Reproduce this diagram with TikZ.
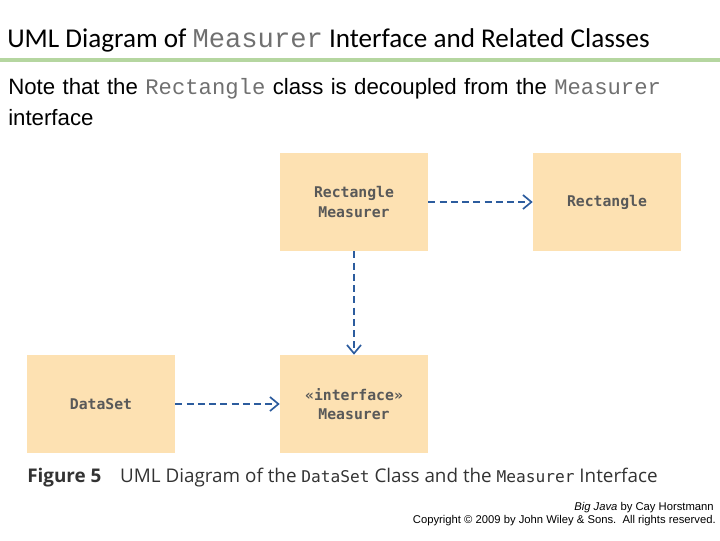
\documentclass[tikz,border=0pt]{standalone}
\usepackage{fontspec}
\setmainfont{Liberation Sans}
\newfontfamily\titlefont{Carlito}
\newfontfamily\codefont{Liberation Mono}
\newfontfamily\boxfont{DejaVu Sans Mono}
\newfontfamily\capfont{Open Sans}
\usetikzlibrary{arrows.meta}
\definecolor{peach}{HTML}{FDE1B2}
\definecolor{arrowblue}{HTML}{2C5C9E}
\definecolor{linegreen}{HTML}{B5D6A0}
\definecolor{codegray}{HTML}{707070}
\tikzset{
  cls/.style={fill=peach,draw=none,minimum width=148*0.025cm,minimum height=98*0.025cm,align=center,font=\boxfont\bfseries\fontsize{10.5}{14}\selectfont,text=black!65},
  dep/.style={draw=arrowblue,dashed,line width=1.3pt,dash pattern=on 5pt off 3pt,-{Straight Barb[length=6pt,width=10pt,line width=1.2pt]}}
}
\begin{document}
\begin{tikzpicture}[x=0.025cm,y=-0.025cm]
\useasboundingbox (0,0) rectangle (720,540);
\node[anchor=west,font=\titlefont\fontsize{19.3}{22}\selectfont,inner sep=0] (title) at (7,40) {UML Diagram of {\codefont\color{codegray}Measurer} Interface and Related Classes};
\draw[linegreen,line width=2.5pt] (0,60) -- (720,60);
\node[anchor=north west,font=\fontsize{15.8}{22}\selectfont,align=left,inner sep=0,text width=705*0.025cm] (note) at (8,78) {Note that the {\codefont\color{codegray}Rectangle} class is decoupled from the {\codefont\color{codegray}Measurer}\\interface};
\node[cls] (rm) at (354,202) {Rectangle\\Measurer};
\node[cls] (r) at (607,202) {Rectangle};
\node[cls] (m) at (354,404) {«interface»\\Measurer};
\node[cls] (d) at (101,404) {DataSet};
\draw[dep] (rm) -- (r);
\draw[dep] (rm) -- (m);
\draw[dep] (d) -- (m);
\node[anchor=west,inner sep=0,font=\capfont\fontsize{13.4}{15}\selectfont,text=black!80] (cap) at (27,478) {\textbf{Figure 5}\quad UML Diagram of the {\boxfont\fontsize{11.5}{13}\selectfont DataSet} Class and the {\boxfont\fontsize{11.5}{13}\selectfont Measurer} Interface};
\node[anchor=east,inner sep=0,font=\fontsize{8}{10}\selectfont] (f1) at (714,508) {\textit{Big Java} by Cay Horstmann};
\node[anchor=east,inner sep=0,font=\fontsize{8}{10}\selectfont] (f2) at (716,521) {Copyright © 2009 by John Wiley \& Sons.\ \ All rights reserved.};
\end{tikzpicture}
\end{document}
